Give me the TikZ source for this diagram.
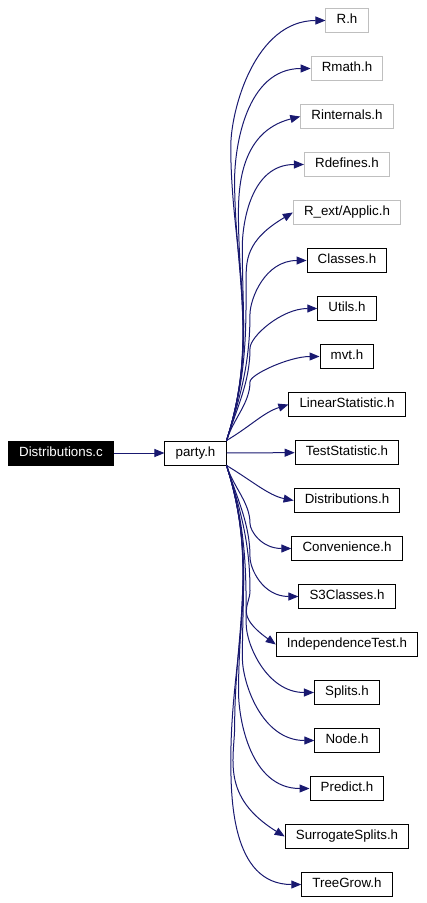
\documentclass[tikz,border=0pt]{standalone}
\usepackage{fontspec}
\setmainfont{Liberation Sans}
\usetikzlibrary{arrows.meta}
\definecolor{depblue}{HTML}{191970}
\definecolor{extgray}{HTML}{BFBFBF}

\begin{document}
\begin{tikzpicture}[x=.75pt,y=-.75pt,line width=.75pt,font=\fontsize{10}{12}\selectfont,
 hdr/.style={draw=black,minimum height=18pt,inner xsep=8pt,inner ysep=0pt,text height=7.4pt,text depth=2.2pt},
 dep/.style={draw=depblue,-{Triangle[length=7.5pt,width=6pt]}}]
\useasboundingbox (0,0) rectangle (426,903);
\node[hdr,fill=black,text=white] (distc) at (61,453) {Distributions.c};
\node[hdr] (party) at (195.5,453) {party.h};
\draw[dep] (distc) -- (party);
% headers included by party.h, top to bottom
\foreach \i/\nm/\lbl/\col/\lift in {0/rh/R.h/extgray/0,1/rmath/Rmath.h/extgray/0,
 2/rinternals/Rinternals.h/extgray/15,3/rdefines/Rdefines.h/extgray/0,
 4/applic/{R\_ext/Applic.h}/extgray/28,5/classes/Classes.h/black/0,6/utils/Utils.h/black/0,
 7/mvt/mvt.h/black/0,8/linstat/LinearStatistic.h/black/8,9/teststat/TestStatistic.h/black/0,
 10/distrh/Distributions.h/black/5,11/conv/Convenience.h/black/0,12/sclasses/S3Classes.h/black/0,
 13/indep/IndependenceTest.h/black/30,14/splits/Splits.h/black/0,15/nodeh/Node.h/black/0,
 16/predict/Predict.h/black/0,17/surrogate/SurrogateSplits.h/black/40,18/treegrow/TreeGrow.h/black/0}{
 \node[hdr,draw=\col] (\nm) at (347,20.5+48*\i) {\lbl};
 \pgfmathsetmacro{\ty}{20.5+48*\i}
 \pgfmathsetmacro{\sgn}{\i<9 ? -1 : 1}
 \pgfmathsetmacro{\dist}{abs(\ty-453)-12}
 \ifnum\i=9
  \draw[dep] (party) -- (\nm);
 \else
  \ifnum\i<9 \def\from{party.north east}\else \def\from{party.south east}\fi
  \pgfmathtruncatemacro{\near}{\dist<60 ? 1 : 0}
  \ifnum\near=1
   \draw[dep] (\from) .. controls +(25,{15*(\sgn)}) and +(-25,{-(\sgn)*\lift}) .. (\nm.west);
  \else
   \pgfmathsetmacro{\wx}{\dist>180 ? 250-0.08*(\dist-180) : 250}
   \pgfmathsetmacro{\wy}{\ty-0.3*(\sgn)*\dist}
   \draw[dep] (\from) .. controls +({0.085*\dist},{0.265*(\sgn)*\dist}) and +(0,{-0.25*(\sgn)*\dist}) .. (\wx,\wy)
    .. controls +(0,{0.088*(\sgn)*\dist}) and +({-20-0.12*\dist},{-(\sgn)*\lift}) .. (\nm.west);
  \fi
 \fi
}
\end{tikzpicture}
\end{document}
